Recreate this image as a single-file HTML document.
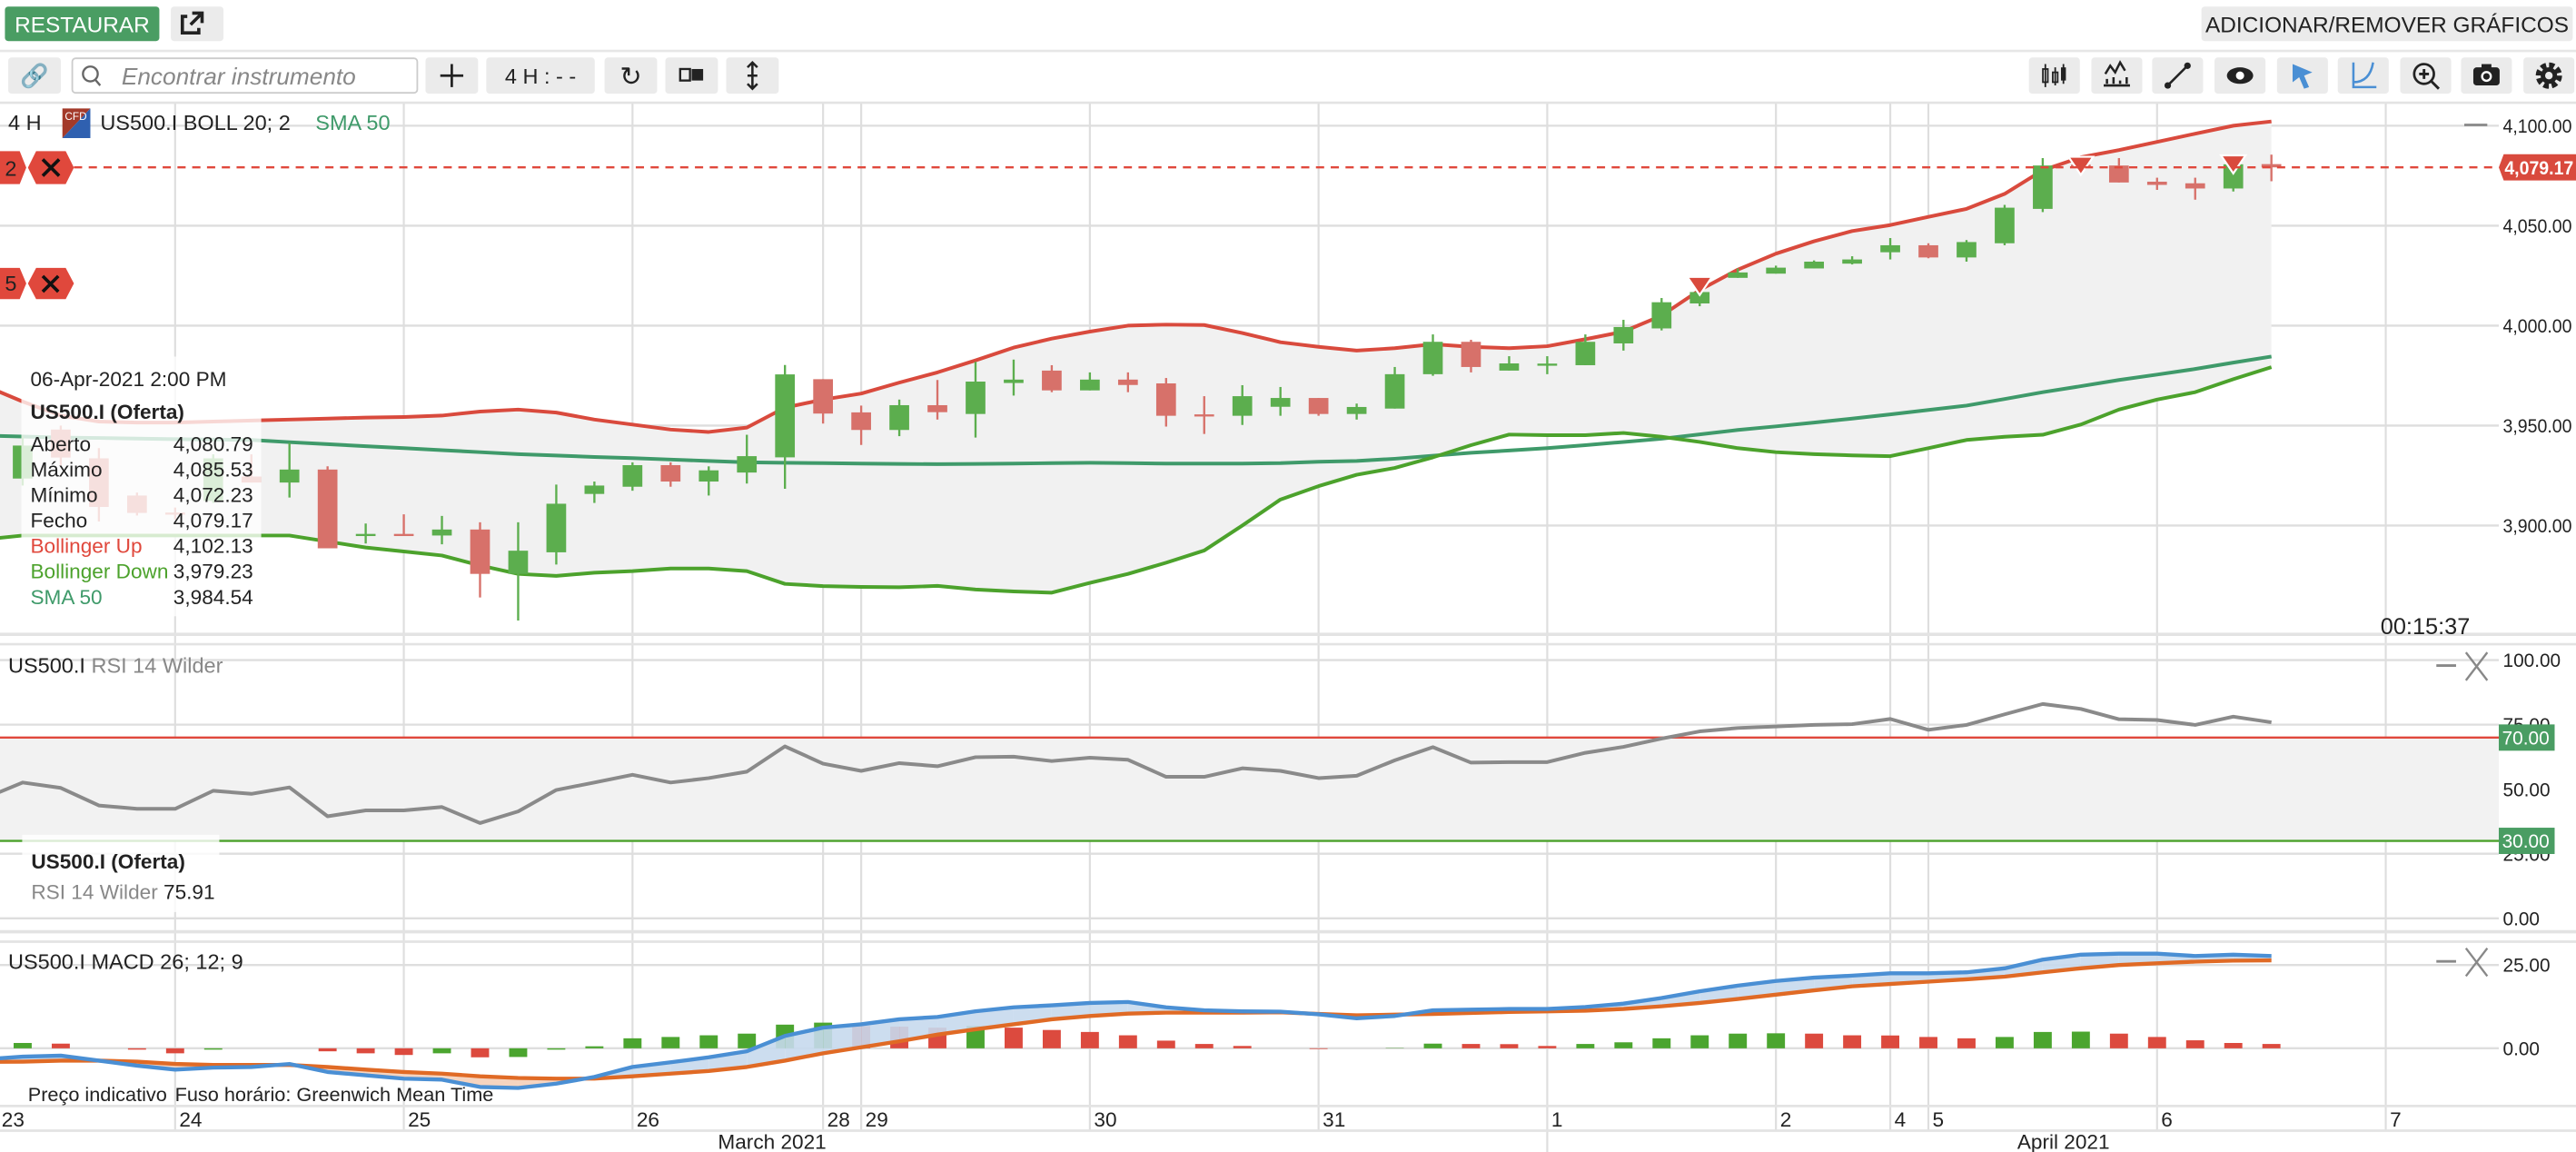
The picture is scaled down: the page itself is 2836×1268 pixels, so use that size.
<!DOCTYPE html>
<html><head><meta charset="utf-8"><style>
html,body{margin:0;padding:0;background:#fff;}
svg{display:block;font-family:"Liberation Sans",sans-serif;}
</style></head><body>
<svg id="chart" width="2836" height="1268" viewBox="0 0 1568 701" preserveAspectRatio="none" xmlns="http://www.w3.org/2000/svg">
<rect width="1568" height="701" fill="#fff"/>
<g><rect x="3" y="4" width="94" height="21" rx="2" fill="#4a9d63"/><text x="50" y="19.5" font-size="13.5" fill="#fff" text-anchor="middle">RESTAURAR</text></g>
<g><rect x="104" y="4" width="32" height="21" rx="2" fill="#ebebeb"/><path d="M114 10 h-3 v10 h10 v-3 M117 8 h6 v6 M123 8 l-7 7" stroke="#222" stroke-width="2" fill="none"/></g>
<g><rect x="1340" y="4" width="226" height="21" rx="2" fill="#ebebeb"/><text x="1453" y="19.5" font-size="13.5" fill="#222" text-anchor="middle">ADICIONAR/REMOVER GRÁFICOS</text></g>
<line x1="0" y1="31" x2="1568" y2="31" stroke="#e6e6e6" stroke-width="1.5"/>
<g><rect x="5" y="35" width="32" height="22" rx="2" fill="#ebebeb"/><text x="21" y="51" font-size="14" fill="#4a8fd4" text-anchor="middle">🔗</text></g>
<g><rect x="44" y="35.5" width="210" height="21" rx="2" fill="#fff" stroke="#ccc"/><circle cx="55" cy="45" r="4.5" stroke="#666" stroke-width="1.3" fill="none"/><line x1="58" y1="48.5" x2="61" y2="52" stroke="#666" stroke-width="1.3"/><text x="74" y="51.5" font-size="14.5" font-style="italic" fill="#888">Encontrar instrumento</text></g>
<g><rect x="259" y="35" width="32" height="22" rx="2" fill="#ebebeb"/><path d="M275 39 v14 M268 46 h14" stroke="#222" stroke-width="1.5"/></g>
<g><rect x="296" y="35" width="66" height="22" rx="2" fill="#ebebeb"/><text x="329" y="51" font-size="13" fill="#222" text-anchor="middle">4 H : - -</text></g>
<g><rect x="368" y="35" width="32" height="22" rx="2" fill="#ebebeb"/><text x="384" y="52" font-size="16" fill="#222" text-anchor="middle">↻</text></g>
<g><rect x="405" y="35" width="32" height="22" rx="2" fill="#ebebeb"/><rect x="414" y="42" width="6" height="7" fill="none" stroke="#222" stroke-width="1.3"/><rect x="421" y="42" width="7" height="7" fill="#222"/></g>
<g><rect x="442" y="35" width="32" height="22" rx="2" fill="#ebebeb"/><path d="M458 38 v16 M455 41 l3-3 3 3 M455 51 l3 3 3-3 M455 46 h6" stroke="#222" stroke-width="1.4" fill="none"/></g>
<g id="rightTools"></g>
<line x1="0" y1="62.5" x2="1568" y2="62.5" stroke="#e3e3e3" stroke-width="1.5"/>
<g id="grid"></g>
<g id="main"></g>
<g id="rsi"></g>
<g id="macd"></g>
<g id="overlay"></g>
</svg>
<script>
const dayLabels = ['24','25','26','28','29','30','31','1','2','4','5','6','7'];
const daySlots  = [4,10,16,21,22,28,34,40,46,49,50,56,62];
const opens  = [3950,3923.5,3948,3933.6,3915,3906.5,3912.3,3924.5,3921.5,3928,3895.3,3895.8,3895,3898,3875.8,3886.6,3915.8,3919.4,3930.2,3922,3926.5,3934.1,3973.2,3956.6,3947.8,3960.2,3955.8,3971.3,3977.5,3967.6,3973,3971.1,3955.6,3954.9,3959.4,3963.8,3955.8,3958.5,3975.7,3991.9,3977.5,3980.6,3980.2,3991.1,3998.6,4011.1,4023.9,4026,4028.6,4031,4036.7,4040.2,4034.1,4041.2,4058.4,4080.5,4080.1,4072,4071.2,4068.6,4080.79];
const highs  = [3952,3945,3950,3938.7,3916.5,3909,3935.6,3935.6,3941.3,3929.6,3901,3905.6,3904.8,3901.6,3901.6,3920.5,3922,3931.6,3931.6,3929.6,3945.4,3980.3,3973.2,3960,3963,3972.8,3981.9,3983,3980.2,3976.6,3976.6,3973.8,3964.7,3970.2,3969.3,3963.8,3961,3979.3,3995.6,3992.9,3984.7,3984.7,3995.6,4002.9,4013.8,4021.9,4028.6,4030,4032.6,4034.7,4043.8,4041.2,4042.8,4060.4,4083.8,4082,4083.8,4074,4074,4082.7,4085.53];
const lows   = [3920,3920,3930,3902,3905,3903,3911.3,3921.5,3914,3888.6,3891,3895,3890.6,3864,3852.5,3880.5,3911.3,3917.4,3919.4,3915,3921,3918.4,3951,3940.3,3944.7,3953,3944,3965,3966.7,3967.6,3966.7,3949.5,3945.8,3950.3,3954.9,3954.9,3953,3958.5,3974.9,3976.6,3977.5,3975.7,3980.2,3987.5,3997.6,4009.7,4023.9,4026,4028.6,4030.6,4033.1,4033.7,4032,4040.2,4056.8,4077.5,4071.6,4067.9,4063,4067.1,4072.23];
const closes = [3925,3940,3934,3909.3,3906.3,3906,3933.6,3921.5,3928,3888.6,3895.8,3895.3,3898,3875.8,3887.4,3910.9,3920,3930.2,3922,3927.6,3934.7,3975.6,3956,3947.8,3960.2,3956.7,3972,3973,3967.6,3973,3970.3,3954.9,3955.1,3964.7,3963.8,3955.8,3959.3,3975.7,3991.9,3979.3,3981.1,3981,3991.9,3999.3,4011.7,4016.8,4026.6,4029,4032,4033.1,4040.2,4034.1,4041.8,4059,4080.1,4079.5,4071.6,4070.4,4068.6,4080.7,4079.17];
const bollUp = [3970,3962,3955,3952,3951.5,3951.5,3952,3952.5,3953,3953.5,3954,3954.3,3955,3957,3958,3956.5,3953,3950.5,3948,3946.8,3949,3959,3963,3966,3971.5,3976.6,3982.6,3989,3993.5,3997,4000,4000.5,4000.3,3996.3,3991.7,3989.4,3987.5,3988.7,3990.7,3989.4,3988.7,3989.7,3993.2,3997,4005,4017.8,4028,4036,4042.2,4047.3,4050.3,4054.4,4058.4,4065.9,4077.7,4084.2,4087.8,4091.9,4096,4100,4102.13];
const bollDown = [3893,3895,3895,3895,3895,3895,3895,3895,3895,3892,3889,3887,3885,3880,3875.8,3874.8,3876.4,3877.2,3878.5,3878.5,3877.2,3870.8,3869.7,3869.3,3869.1,3869.8,3868,3867,3866.4,3871.3,3875.8,3881.4,3887.5,3900,3913,3919.7,3925.4,3928.8,3934.1,3940.2,3945.5,3945.2,3945.2,3946.3,3944.4,3941.8,3938.7,3936.7,3935.7,3935.1,3934.7,3938.7,3942.8,3944.4,3945.4,3950.5,3958,3963,3966.7,3973.2,3979.23];
const sma50 = [3945,3944.5,3944,3943.8,3943.5,3943.2,3943,3942.8,3941.7,3940.7,3939.7,3938.7,3937.7,3936.7,3935.7,3935,3934.3,3933.7,3933,3932.3,3931.6,3931.4,3931.2,3931,3930.8,3930.7,3930.8,3931,3931.2,3931.4,3931.2,3931,3931,3931,3931.2,3931.9,3932.3,3933.4,3934.9,3936.4,3937.5,3938.7,3940.2,3941.8,3943.4,3945.6,3947.8,3949.6,3951.5,3953.5,3955.6,3957.8,3960,3963.3,3966.7,3969.7,3972.8,3975.5,3978.3,3981.5,3984.54];
const rsiValues = [46.5,52.6,50.5,43.7,42.4,42.4,49.4,48.2,50.7,39.5,41.8,41.8,43.1,36.9,41.4,49.7,52.6,55.6,52.6,54.3,56.8,66.6,59.9,57.1,60.1,58.9,62.4,62.6,60.9,62.2,61.4,54.8,54.8,58.1,57.1,54.3,55.2,61.2,66.3,60.3,60.5,60.5,64.1,66.4,69.6,72.4,73.7,74.3,74.9,75.2,77.2,73,74.9,79,83,81.1,77.1,76.8,74.9,78.1,75.91];
const macdValues = [-3.3,-2.5,-2.2,-3.7,-5.2,-6.4,-5.8,-5.6,-4.7,-7.1,-8.1,-9.1,-9.4,-11.6,-11.9,-10.6,-8.6,-5.6,-4.2,-2.7,-0.9,3.7,6.2,7.2,8.7,9.4,11.1,12.3,12.9,13.6,13.9,12.3,11.4,11.1,11.0,10.2,9.0,9.7,11.4,11.6,11.8,11.8,12.4,13.4,15.1,17.1,18.8,20.2,21.2,21.8,22.5,22.5,22.8,24.0,26.6,28.1,28.4,28.4,27.7,28.1,27.7];
const signalValues = [-4.1,-4.0,-3.7,-3.7,-4.0,-4.7,-5.0,-5.0,-5.0,-5.6,-6.4,-7.1,-7.6,-8.4,-8.9,-9.1,-9.1,-8.4,-7.6,-6.8,-5.6,-3.7,-1.5,0.3,2.1,4.1,5.7,7.2,8.7,9.7,10.4,10.7,10.7,10.7,10.8,10.3,9.9,10.1,10.3,10.6,10.9,11.1,11.3,11.8,12.6,13.6,14.8,16.1,17.4,18.6,19.3,20.0,20.7,21.5,22.8,24.0,25.0,25.5,26.0,26.3,26.4];
const histValues = [0,1.6,1.4,0,-0.4,-1.5,-0.4,0,0,-0.9,-1.5,-2.0,-1.5,-2.7,-2.6,-0.4,0.6,3.0,3.4,3.9,4.4,7.1,7.7,6.7,6.5,6.2,6.7,6.2,5.5,4.9,3.9,2.3,1.3,0.7,0,-0.2,0,0.1,1.4,1.3,1.25,0.7,1.3,1.8,3.0,3.9,4.4,4.5,4.4,3.9,3.85,3.4,3.0,3.4,4.9,5.0,4.4,3.4,2.4,1.6,1.3];
const signalMarkerSlots = [44,54,58];
const priceTicks = [4100,4050,4000,3950,3900];
const priceTickLabels = ['4,100.00','4,050.00','4,000.00','3,950.00','3,900.00'];
const rsiTicks = [100,75,50,25,0];
const rsiTickLabels = ['100.00','75.00','50.00','25.00','0.00'];
const macdTicks = [25,0];
const macdTickLabels = ['25.00','0.00'];
const lastPrice = 4079.17;

const NS='http://www.w3.org/2000/svg';
const slotW=23.2, slot0X=13.8;
const xOf = s => slot0X + s*slotW;
const xIdx = i => xOf(i-1);
const yPrice = p => 76.5 + (4100-p)*1.2164;
const yRsi = v => 558.8 - v*1.5712;
const yMacd = v => 637.9 - v*2.028;
function mk(parent, tag, attrs, text){const e=document.createElementNS(NS,tag);for(const k in attrs)e.setAttribute(k,attrs[k]);if(text!==undefined)e.textContent=text;parent.appendChild(e);return e;}
const G=id=>document.getElementById(id);
const grid=G('grid'), main=G('main'), rsiG=G('rsi'), macdG=G('macd'), ov=G('overlay');
const GC='#dedede';
function axisText(parent,x,y,label,extra){const a={x:x,y:y,'font-size':11.5,fill:'#222'};if(label.length>=7){a.textLength=42;a.lengthAdjust='spacingAndGlyphs';}for(const k in (extra||{}))a[k]=extra[k];return mk(parent,'text',a,label);}

daySlots.forEach((s,i)=>{
  const x=xOf(s);
  const l=mk(grid,'line',{x1:x,y1:63,x2:x,y2:(dayLabels[i]==='1'?701:688),stroke:GC,'stroke-width':1.2});
  
  
  const t=mk(ov,'text',{x:x+2.5,y:685.5,'font-size':12.5,fill:'#222'},dayLabels[i]);
  
  
});
{const t=mk(ov,'text',{x:1,y:685.5,'font-size':12.5,fill:'#222'},'23');}
[['March 2021',470],['April 2021',1256]].forEach(([m,x])=>{const t=mk(ov,'text',{x:x,y:699,'font-size':12.5,fill:'#222','text-anchor':'middle'},m);});
[[386,2],[392,1.5],[567,2],[573,1.5],[673,1.5],[688,1.5]].forEach(([y,w])=>mk(grid,'line',{x1:0,y1:y,x2:1568,y2:y,stroke:'#e3e3e3','stroke-width':w}));

priceTicks.forEach((p,i)=>{
  mk(grid,'line',{x1:0,y1:yPrice(p),x2:1521,y2:yPrice(p),stroke:GC,'stroke-width':1.3});
  const t=axisText(ov,1523.5,yPrice(p)+4.2,priceTickLabels[i]);
  
  
});
let pts=bollUp.map((v,i)=>xIdx(i)+','+yPrice(v)).concat(bollDown.map((v,i)=>xIdx(i)+','+yPrice(v)).reverse());
const band=mk(main,'polygon',{points:pts.join(' '),fill:'#f1f1f1'});


function poly(parent,arr,yf,color,w,name){
  const p=mk(parent,'polyline',{points:arr.map((v,i)=>xIdx(i)+','+yf(v)).join(' '),fill:'none',stroke:color,'stroke-width':w,'stroke-linejoin':'round'});
  
  
  return p;
}
poly(main,sma50,yPrice,'#3f9a6a',2.2,'sma50-line');
poly(main,bollDown,yPrice,'#4ca22c',2.2,'bollinger-down-line');
poly(main,bollUp,yPrice,'#d94a3d',2.2,'bollinger-up-line');
opens.forEach((o,i)=>{
  const c=closes[i], x=xIdx(i), up=c>=o, col=up?'#5cae4e':'#d7716a';
  const g=mk(main,'g',{});
  
  
  mk(g,'line',{x1:x,y1:yPrice(highs[i]),x2:x,y2:yPrice(lows[i]),stroke:col,'stroke-width':1.3});
  const yt=yPrice(Math.max(o,c)), yb=yPrice(Math.min(o,c));
  mk(g,'rect',{x:x-6,y:yt,width:12,height:Math.max(1.3,yb-yt),fill:col});
});
signalMarkerSlots.forEach(s=>{
  const i=s+1, x=xOf(s), y=yPrice(highs[i])-2;
  const m=mk(main,'polygon',{points:`${x-7.5},${y-1} ${x+7.5},${y-1} ${x},${y+10}`,fill:'#d94a3d',stroke:'#fff','stroke-width':1.2});
  
  
});
{const l=mk(main,'line',{x1:0,y1:yPrice(lastPrice),x2:1521,y2:yPrice(lastPrice),stroke:'#e0483c','stroke-width':1.3,'stroke-dasharray':'5,4'});

const g=mk(ov,'g',{});
const y=yPrice(lastPrice);
mk(g,'polygon',{points:`1521,${y} 1524,${y-8} 1568,${y-8} 1568,${y+8} 1524,${y+8}`,fill:'#d94a3d'});
axisText(g,1524.5,y+4.2,'4,079.17',{fill:'#fff','font-weight':'bold'});}

mk(rsiG,'rect',{x:0,y:yRsi(70),width:1521,height:yRsi(30)-yRsi(70),fill:'#f2f2f2'});
rsiTicks.forEach((v,i)=>{
  mk(grid,'line',{x1:0,y1:yRsi(v),x2:1521,y2:yRsi(v),stroke:GC,'stroke-width':1.3});
  const t=mk(ov,'text',{x:1523.5,y:yRsi(v)+4.2,'font-size':11.5,fill:'#222'},rsiTickLabels[i]);
  
  
});
mk(rsiG,'line',{x1:0,y1:yRsi(70),x2:1521,y2:yRsi(70),stroke:'#e0483c','stroke-width':1.3});
mk(rsiG,'line',{x1:0,y1:yRsi(30),x2:1521,y2:yRsi(30),stroke:'#4ca22c','stroke-width':1.3});
poly(rsiG,rsiValues,yRsi,'#8a8a8a',2.2,'rsi-line');
[[70,'70.00'],[30,'30.00']].forEach(([v,l])=>{const g=mk(ov,'g',{});
mk(g,'rect',{x:1521,y:yRsi(v)-8,width:34,height:16,fill:'#4a9d63'});mk(g,'text',{x:1523,y:yRsi(v)+4.2,'font-size':11.5,fill:'#fff'},l);});

macdTicks.forEach((v,i)=>{
  mk(grid,'line',{x1:0,y1:yMacd(v),x2:1521,y2:yMacd(v),stroke:GC,'stroke-width':1.3});
  const t=mk(ov,'text',{x:1523.5,y:yMacd(v)+4.2,'font-size':11.5,fill:'#222'},macdTickLabels[i]);
  
  
});
histValues.forEach((v,i)=>{
  if(i===0)return;
  const col=v>=histValues[i-1]?'#4ba52f':'#dc4a3e';
  const y1=yMacd(Math.max(v,0)), y2=yMacd(Math.min(v,0));
  const b=mk(macdG,'rect',{x:xIdx(i)-5.5,y:y1,width:11,height:y2-y1,fill:col});
  
  
});
for(let i=0;i<macdValues.length-1;i++){
  const d=(macdValues[i]+macdValues[i+1])-(signalValues[i]+signalValues[i+1]);
  mk(macdG,'polygon',{points:`${xIdx(i)},${yMacd(macdValues[i])} ${xIdx(i+1)},${yMacd(macdValues[i+1])} ${xIdx(i+1)},${yMacd(signalValues[i+1])} ${xIdx(i)},${yMacd(signalValues[i])}`,fill:d>=0?'#c6d9ed':'#f5cfb8','fill-opacity':0.9});
}
poly(macdG,signalValues,yMacd,'#e06a25',2.4,'macd-signal-line');
poly(macdG,macdValues,yMacd,'#4a8fd4',2.4,'macd-line');

const rt=G('rightTools');
const toolNames=['candles-type-button','indicators-button','draw-line-button','visibility-button','cursor-button','curve-button','zoom-button','screenshot-button','settings-button'];
const toolX=[1235,1273,1310,1348,1386,1423,1461,1498,1536];
toolNames.forEach((n,i)=>{
  const g=mk(rt,'g',{});
  
  
  const x=toolX[i];
  mk(g,'rect',{x:x,y:35,width:31,height:22,rx:2,fill:'#ebebeb'});
  const cx=x+15.5, cy=46;
  if(i===0){mk(g,'rect',{x:cx-7,y:cy-4,width:3,height:8,fill:'none',stroke:'#222'});mk(g,'rect',{x:cx-1,y:cy-2,width:3,height:6,fill:'none',stroke:'#222'});mk(g,'rect',{x:cx+4,y:cy-5,width:3,height:8,fill:'#222'});mk(g,'path',{d:`M${cx-5.5} ${cy-7}v14M${cx+0.5} ${cy-5}v11M${cx+5.5} ${cy-7}v12`,stroke:'#222'});}
  if(i===1){mk(g,'path',{d:`M${cx-7} ${cy-1}l3-5 3 4 3-6 3 5 M${cx-8} ${cy+6}h16 M${cx-6} ${cy+5}v-3 M${cx-2} ${cy+5}v-4 M${cx+2} ${cy+5}v-2 M${cx+6} ${cy+5}v-4`,stroke:'#222','stroke-width':1.4,fill:'none'});}
  if(i===2){mk(g,'path',{d:`M${cx-6} ${cy+6}L${cx+6} ${cy-6}`,stroke:'#222','stroke-width':1.4});mk(g,'circle',{cx:cx-6,cy:cy+6,r:2,fill:'#222'});mk(g,'circle',{cx:cx+6,cy:cy-6,r:2,fill:'#222'});}
  if(i===3){mk(g,'ellipse',{cx:cx,cy:cy,rx:8,ry:5,fill:'#222'});mk(g,'circle',{cx:cx,cy:cy,r:2.5,fill:'#fff'});}
  if(i===4){mk(g,'path',{d:`M${cx-6} ${cy-7}L${cx+6} ${cy-2}L${cx+1} ${cy}L${cx+4} ${cy+7}L${cx+1} ${cy+8}L${cx-2} ${cy+1}L${cx-6} ${cy+4}Z`,fill:'#4a8fd4'});}
  if(i===5){mk(g,'path',{d:`M${cx-6} ${cy-8}V${cy+7}H${cx+8} M${cx-6} ${cy+4}Q${cx+4} ${cy+4} ${cx+6} ${cy-8}`,stroke:'#4a8fd4','stroke-width':1.4,fill:'none'});}
  if(i===6){mk(g,'circle',{cx:cx-1,cy:cy-1,r:6,fill:'none',stroke:'#222','stroke-width':1.5});mk(g,'path',{d:`M${cx+3} ${cy+3}l5 5 M${cx-4} ${cy-1}h6 M${cx-1} ${cy-4}v6`,stroke:'#222','stroke-width':1.6});}
  if(i===7){mk(g,'rect',{x:cx-8,y:cy-5,width:16,height:11,rx:2,fill:'#222'});mk(g,'rect',{x:cx-3,y:cy-7,width:6,height:3,fill:'#222'});mk(g,'circle',{cx:cx,cy:cy+0.5,r:3.3,fill:'#fff'});mk(g,'circle',{cx:cx,cy:cy+0.5,r:2,fill:'#222'});}
  if(i===8){mk(g,'circle',{cx:cx,cy:cy,r:6,fill:'none',stroke:'#222','stroke-width':4,'stroke-dasharray':'3,1.7'});mk(g,'circle',{cx:cx,cy:cy,r:5,fill:'#222'});mk(g,'circle',{cx:cx,cy:cy,r:2.3,fill:'#ebebeb'});}
});
</script>
<svg style="position:absolute;left:0;top:0" width="2836" height="1268" viewBox="0 0 1568 701" preserveAspectRatio="none" xmlns="http://www.w3.org/2000/svg" font-family="Liberation Sans, sans-serif">
<text x="5" y="79" font-size="13" fill="#222">4 H</text>
<g><polygon points="38,66 55,66 38,84" fill="#a33a2a"/><polygon points="55,66 55,84 38,84" fill="#2f60b0"/><text x="39.5" y="73" font-size="6.5" fill="#fff">CFD</text></g>
<text x="61" y="79" font-size="13" fill="#222">US500.I  BOLL 20; 2</text>
<text x="192" y="79" font-size="13" fill="#3f9a6a">SMA 50</text>
<line x1="1500" y1="76" x2="1514" y2="76" stroke="#888" stroke-width="1.5"/>
<g><polygon points="0,92 12,92 16,102 12,112 0,112" fill="#e0483c"/><text x="3" y="107" font-size="13" fill="#222">2</text><polygon points="22,92 40,92 45,102 40,112 22,112 17,102" fill="#e0483c"/><path d="M26 97l10 10M36 97l-10 10" stroke="#111" stroke-width="2"/></g>
<g><polygon points="0,163 12,163 16,172.5 12,182 0,182" fill="#e0483c"/><text x="3" y="177" font-size="13" fill="#222">5</text><polygon points="22,163 40,163 45,172.5 40,182 22,182 17,172.5" fill="#e0483c"/><path d="M26 168l9.5 9.5M35.5 168l-9.5 9.5" stroke="#111" stroke-width="2"/></g>
<g>
<rect x="13" y="217" width="146" height="158" fill="#fff" fill-opacity="0.78"/>
<text x="18.5" y="235" font-size="12.5" fill="#222">06-Apr-2021 2:00 PM</text>
<text x="18.5" y="255" font-size="12.5" fill="#222" font-weight="bold">US500.I (Oferta)</text>
<g font-size="12.5" fill="#222"><text x="18.5" y="274.5">Aberto</text><text x="105.5" y="274.5">4,080.79</text>
<text x="18.5" y="290">Máximo</text><text x="105.5" y="290">4,085.53</text>
<text x="18.5" y="305.5">Mínimo</text><text x="105.5" y="305.5">4,072.23</text>
<text x="18.5" y="321">Fecho</text><text x="105.5" y="321">4,079.17</text>
<text x="18.5" y="336.5" fill="#e0483c">Bollinger Up</text><text x="105.5" y="336.5">4,102.13</text>
<text x="18.5" y="352" fill="#4ca22c">Bollinger Down</text><text x="105.5" y="352">3,979.23</text>
<text x="18.5" y="367.5" fill="#3f9a6a">SMA 50</text><text x="105.5" y="367.5">3,984.54</text></g>
</g>
<text x="1449" y="386" font-size="14" fill="#222">00:15:37</text>
<text x="5" y="409.5" font-size="13" fill="#222">US500.I <tspan fill="#888">RSI 14 Wilder</tspan></text>
<g><line x1="1483" y1="405" x2="1495" y2="405" stroke="#888" stroke-width="1.6"/><path d="M1501 397l13 17M1514 397l-13 17" stroke="#888" stroke-width="1.3"/></g>
<g><rect x="13.5" y="508" width="120" height="47" fill="#fff" fill-opacity="0.8"/>
<text x="19" y="528.5" font-size="12.5" font-weight="bold" fill="#222">US500.I (Oferta)</text>
<text x="19" y="547" font-size="12.5" fill="#888">RSI 14 Wilder <tspan fill="#222">75.91</tspan></text></g>
<text x="5" y="589.5" font-size="13" fill="#222">US500.I  MACD 26; 12; 9</text>
<g><line x1="1483" y1="585" x2="1495" y2="585" stroke="#888" stroke-width="1.6"/><path d="M1501 577l13 17M1514 577l-13 17" stroke="#888" stroke-width="1.3"/></g>
<text x="17" y="670" font-size="12" fill="#222">Preço indicativo</text>
<text x="106.5" y="670" font-size="12" fill="#222">Fuso horário: Greenwich Mean Time</text>
</svg>
</body></html>
